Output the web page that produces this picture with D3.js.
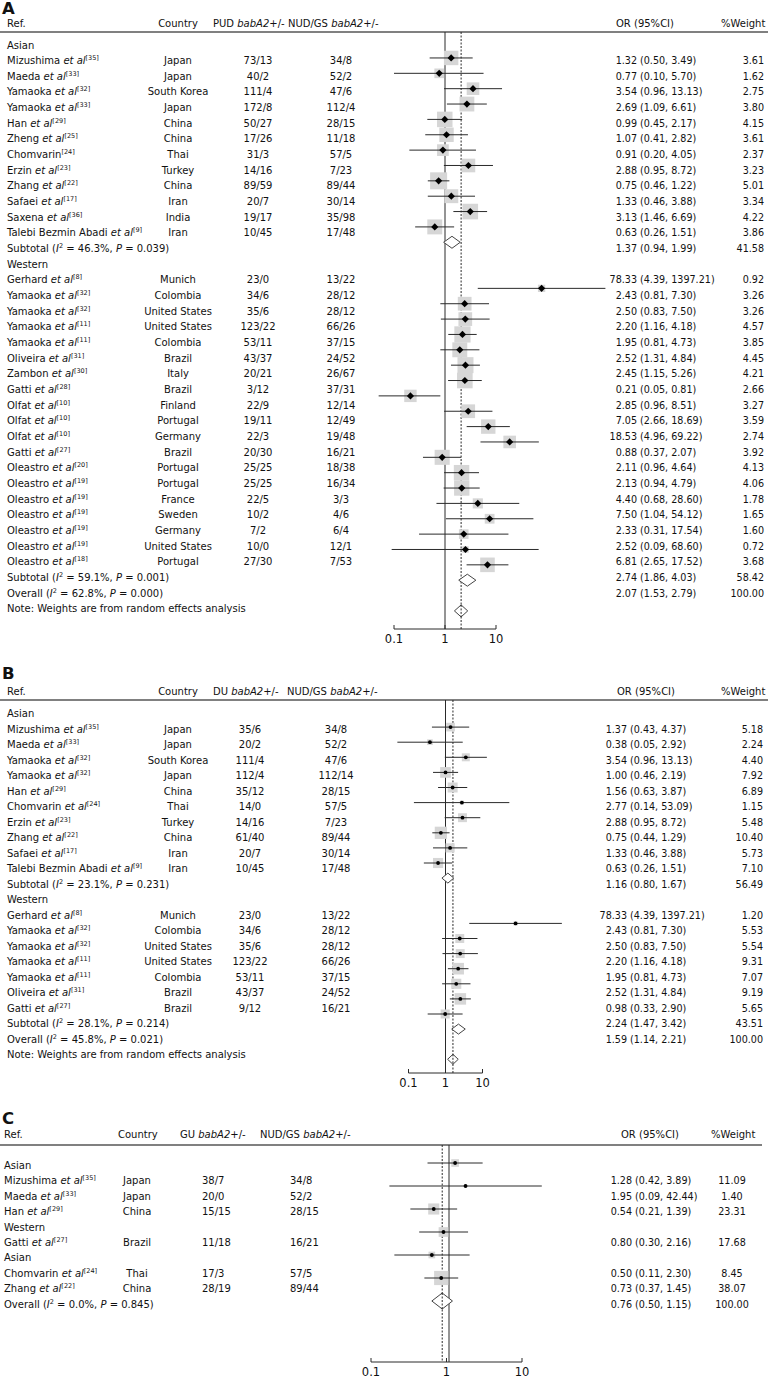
<!DOCTYPE html>
<html><head><meta charset="utf-8">
<script src="https://cdn.jsdelivr.net/npm/d3@7/dist/d3.min.js"></script>
<style>
body{margin:0;background:#fff}
svg{display:block}
text{font-family:'DejaVu Sans',sans-serif;fill:#111;white-space:pre}
</style>
</head><body>
<svg id="chart" width="768" height="1388"></svg>
<script>
// ---------------- DATA ----------------
// [ref name, citation, country, case +/-, control +/-, OR, lower, upper, %weight]
const A_asian = [
 ["Mizushima et al","35","Japan","73/13","34/8",1.32,0.50,3.49,3.61],
 ["Maeda et al","33","Japan","40/2","52/2",0.77,0.10,5.70,1.62],
 ["Yamaoka et al","32","South Korea","111/4","47/6",3.54,0.96,13.13,2.75],
 ["Yamaoka et al","33","Japan","172/8","112/4",2.69,1.09,6.61,3.80],
 ["Han et al","29","China","50/27","28/15",0.99,0.45,2.17,4.15],
 ["Zheng et al","25","China","17/26","11/18",1.07,0.41,2.82,3.61],
 ["Chomvarin","24","Thai","31/3","57/5",0.91,0.20,4.05,2.37],
 ["Erzin et al","23","Turkey","14/16","7/23",2.88,0.95,8.72,3.23],
 ["Zhang et al","22","China","89/59","89/44",0.75,0.46,1.22,5.01],
 ["Safaei et al","17","Iran","20/7","30/14",1.33,0.46,3.88,3.34],
 ["Saxena et al","36","India","19/17","35/98",3.13,1.46,6.69,4.22],
 ["Talebi Bezmin Abadi et al","9","Iran","10/45","17/48",0.63,0.26,1.51,3.86]
];
const A_western = [
 ["Gerhard et al","8","Munich","23/0","13/22",78.33,4.39,1397.21,0.92],
 ["Yamaoka et al","32","Colombia","34/6","28/12",2.43,0.81,7.30,3.26],
 ["Yamaoka et al","32","United States","35/6","28/12",2.50,0.83,7.50,3.26],
 ["Yamaoka et al","11","United States","123/22","66/26",2.20,1.16,4.18,4.57],
 ["Yamaoka et al","11","Colombia","53/11","37/15",1.95,0.81,4.73,3.85],
 ["Oliveira et al","31","Brazil","43/37","24/52",2.52,1.31,4.84,4.45],
 ["Zambon et al","30","Italy","20/21","26/67",2.45,1.15,5.26,4.21],
 ["Gatti et al","28","Brazil","3/12","37/31",0.21,0.05,0.81,2.66],
 ["Olfat et al","10","Finland","22/9","12/14",2.85,0.96,8.51,3.27],
 ["Olfat et al","10","Portugal","19/11","12/49",7.05,2.66,18.69,3.59],
 ["Olfat et al","10","Germany","22/3","19/48",18.53,4.96,69.22,2.74],
 ["Gatti et al","27","Brazil","20/30","16/21",0.88,0.37,2.07,3.92],
 ["Oleastro et al","20","Portugal","25/25","18/38",2.11,0.96,4.64,4.13],
 ["Oleastro et al","19","Portugal","25/25","16/34",2.13,0.94,4.79,4.06],
 ["Oleastro et al","19","France","22/5","3/3",4.40,0.68,28.60,1.78],
 ["Oleastro et al","19","Sweden","10/2","4/6",7.50,1.04,54.12,1.65],
 ["Oleastro et al","19","Germany","7/2","6/4",2.33,0.31,17.54,1.60],
 ["Oleastro et al","19","United States","10/0","12/1",2.52,0.09,68.60,0.72],
 ["Oleastro et al","18","Portugal","27/30","7/53",6.81,2.65,17.52,3.68]
];
// [label, I2, P, OR, lower, upper, weight]
const A_summary = [
 ["Subtotal","46.3%","0.039",1.37,0.94,1.99,41.58],
 ["Subtotal","59.1%","0.001",2.74,1.86,4.03,58.42],
 ["Overall","62.8%","0.000",2.07,1.53,2.79,100.00]
];

const B_asian = [
 ["Mizushima et al","35","Japan","35/6","34/8",1.37,0.43,4.37,5.18],
 ["Maeda et al","33","Japan","20/2","52/2",0.38,0.05,2.92,2.24],
 ["Yamaoka et al","32","South Korea","111/4","47/6",3.54,0.96,13.13,4.40],
 ["Yamaoka et al","32","Japan","112/4","112/14",1.00,0.46,2.19,7.92],
 ["Han et al","29","China","35/12","28/15",1.56,0.63,3.87,6.89],
 ["Chomvarin et al","24","Thai","14/0","57/5",2.77,0.14,53.09,1.15],
 ["Erzin et al","23","Turkey","14/16","7/23",2.88,0.95,8.72,5.48],
 ["Zhang et al","22","China","61/40","89/44",0.75,0.44,1.29,10.40],
 ["Safaei et al","17","Iran","20/7","30/14",1.33,0.46,3.88,5.73],
 ["Talebi Bezmin Abadi et al","9","Iran","10/45","17/48",0.63,0.26,1.51,7.10]
];
const B_western = [
 ["Gerhard et al","8","Munich","23/0","13/22",78.33,4.39,1397.21,1.20],
 ["Yamaoka et al","32","Colombia","34/6","28/12",2.43,0.81,7.30,5.53],
 ["Yamaoka et al","32","United States","35/6","28/12",2.50,0.83,7.50,5.54],
 ["Yamaoka et al","11","United States","123/22","66/26",2.20,1.16,4.18,9.31],
 ["Yamaoka et al","11","Colombia","53/11","37/15",1.95,0.81,4.73,7.07],
 ["Oliveira et al","31","Brazil","43/37","24/52",2.52,1.31,4.84,9.19],
 ["Gatti et al","27","Brazil","9/12","16/21",0.98,0.33,2.90,5.65]
];
const B_summary = [
 ["Subtotal","23.1%","0.231",1.16,0.80,1.67,56.49],
 ["Subtotal","28.1%","0.214",2.24,1.47,3.42,43.51],
 ["Overall","45.8%","0.021",1.59,1.14,2.21,100.00]
];

const C_asian1 = [
 ["Mizushima et al","35","Japan","38/7","34/8",1.28,0.42,3.89,11.09],
 ["Maeda et al","33","Japan","20/0","52/2",1.95,0.09,42.44,1.40],
 ["Han et al","29","China","15/15","28/15",0.54,0.21,1.39,23.31]
];
const C_western = [
 ["Gatti et al","27","Brazil","11/18","16/21",0.80,0.30,2.16,17.68]
];
const C_asian2 = [
 ["Chomvarin et al","24","Thai","17/3","57/5",0.50,0.11,2.30,8.45],
 ["Zhang et al","22","China","28/19","89/44",0.73,0.37,1.45,38.07]
];
const C_summary = [
 ["Overall","0.0%","0.845",0.76,0.50,1.15,100.00]
];

const groupLabels = ["Asian","Western"];
const axisTicks = [0.1, 1, 10];
const noteText = "Note: Weights are from random effects analysis";
const headersA = ["Ref.","Country","PUD","NUD/GS","OR (95%CI)","%Weight"];
const headersB = ["Ref.","Country","DU","NUD/GS","OR (95%CI)","%Weight"];
const headersC = ["Ref.","Country","GU","NUD/GS","OR (95%CI)","%Weight"];

// ---------------- DRAWING ----------------
const svg = d3.select("#chart");
const f2 = d3.format(".2f");

function study(r){return {type:"study",name:r[0],cite:r[1],country:r[2],cas:r[3],ctl:r[4],or:r[5],lo:r[6],hi:r[7],w:r[8]};}
function summ(r){return {type:r[0]==="Overall"?"overall":"sub",label:r[0],i2:r[1],p:r[2],or:r[3],lo:r[4],hi:r[5],w:r[6]};}

function refText(g, x, y, d){
  const t = g.append("text").attr("x",x).attr("y",y).attr("font-size",10);
  if (d.name.endsWith(" et al")) {
    t.append("tspan").text(d.name.slice(0,-5));
    t.append("tspan").attr("font-style","italic").text("et al");
  } else t.append("tspan").text(d.name);
  t.append("tspan").attr("font-size",6.5).attr("dy",-4).text("[" + d.cite + "]");
}
function statText(g, x, y, d){
  const t = g.append("text").attr("x",x).attr("y",y).attr("font-size",10);
  t.append("tspan").text(d.label + " (");
  t.append("tspan").attr("font-style","italic").text("I");
  t.append("tspan").attr("font-size",6.5).attr("dy",-4).text("2");
  t.append("tspan").attr("dy",4).text(" = " + d.i2 + ", ");
  t.append("tspan").attr("font-style","italic").text("P");
  t.append("tspan").text(" = " + d.p + ")");
}
function headerText(g, x, y, label, anchor){
  const t = g.append("text").attr("x",x).attr("y",y).attr("font-size",10).attr("text-anchor",anchor||"start");
  if (label==="PUD"||label==="DU"||label==="GU"||label==="NUD/GS") {
    t.append("tspan").text(label + " ");
    t.append("tspan").attr("font-style","italic").text("babA2");
    t.append("tspan").text("+/-");
  } else t.text(label);
}

function drawPanel(cfg){
  const g = svg.append("g");
  const x = d3.scaleLog().domain([0.1,10]).range(cfg.range);
  const xa = d3.scaleLog().domain([0.1,10]).range(cfg.axisRange || cfg.range);
  // panel letter
  g.append("text").attr("x",cfg.letterX).attr("y",cfg.letterY).attr("font-family","'Liberation Sans',Arial,sans-serif")
    .attr("font-weight","bold").attr("font-size",16.5).text(cfg.letter);
  // headers
  const hy = cfg.headY, c = cfg.cols;
  headerText(g, c.ref, hy, cfg.headers[0]);
  headerText(g, c.countryH, hy, cfg.headers[1], c.countryHA);
  headerText(g, c.caseH, hy, cfg.headers[2]);
  headerText(g, c.ctlH, hy, cfg.headers[3]);
  headerText(g, c.orH, hy, cfg.headers[4]);
  headerText(g, c.wH, hy, cfg.headers[5]);
  g.append("line").attr("x1",0).attr("x2",cfg.lineX2).attr("y1",cfg.lineY).attr("y2",cfg.lineY)
    .attr("stroke","#808080").attr("stroke-width",2);

  const rowY = i => cfg.row0 + i*cfg.pitch;
  const overall = cfg.rows.find(r=>r.type==="overall");
  // reference lines
  g.append("line").attr("x1",x(1)).attr("x2",x(1)).attr("y1",cfg.lineY).attr("y2",cfg.axisY)
    .attr("stroke","#2a2a2a").attr("stroke-width",1);
  g.append("line").attr("x1",x(overall.or)).attr("x2",x(overall.or)).attr("y1",cfg.lineY).attr("y2",cfg.axisY)
    .attr("stroke","#2a2a2a").attr("stroke-width",1).attr("stroke-dasharray","2,1.5");

  // plot-row positions (the plot leaves a blank row after each subtotal)
  const plotted = cfg.rows.filter(r=>r.type==="study"||r.type==="sub"||r.type==="overall");
  let subsSeen = 0;
  const plotYs = new Map();
  if (cfg.plotPoint) {
    const ps = d3.scalePoint().domain(d3.range(plotted.length)).range(cfg.plotPoint);
    plotted.forEach((d,k)=>plotYs.set(d, ps(k)));
  } else {
    cfg.rows.forEach((d,i)=>{
      plotYs.set(d, cfg.plotRow0 + (i + subsSeen)*cfg.plotPitch);
      if (d.type==="sub") subsSeen++;
    });
  }

  cfg.rows.forEach((d,i)=>{
    const cy = rowY(i), by = cy + 4;
    if (d.type==="group" || d.type==="note") {
      g.append("text").attr("x",c.ref).attr("y",by).attr("font-size",10).text(d.label);
      return;
    }
    if (d.type==="study") {
      refText(g, c.ref, by, d);
      g.append("text").attr("x",c.country).attr("y",by).attr("font-size",10).attr("text-anchor",c.countryA).text(d.country);
      g.append("text").attr("x",c.cas).attr("y",by).attr("font-size",10).attr("text-anchor",c.casA).text(d.cas);
      g.append("text").attr("x",c.ctl).attr("y",by).attr("font-size",10).attr("text-anchor",c.ctlA).text(d.ctl);
    } else {
      statText(g, c.ref, by, d);
    }
    g.append("text").attr("x",c.orEnd).attr("y",by).attr("font-size",9.6).attr("text-anchor","end").text(f2(d.or));
    g.append("text").attr("x",c.orEnd+3).attr("y",by).attr("font-size",9.6).text("(" + f2(d.lo) + ", " + f2(d.hi) + ")");
    g.append("text").attr("x",c.w).attr("y",by).attr("font-size",9.6).attr("text-anchor",c.wA).text(f2(d.w));

    const py = plotYs.get(d);
    if (d.type==="study") {
      const s = cfg.sqK*Math.sqrt(d.w);
      g.append("rect").attr("x",x(d.or)-s/2).attr("y",py-s/2).attr("width",s).attr("height",s).attr("fill","#d6d6d6");
      g.append("line").attr("x1",x(d.lo)).attr("x2",x(d.hi)).attr("y1",py).attr("y2",py)
        .attr("stroke","#2a2a2a").attr("stroke-width",1);
      if (cfg.marker==="diamond") {
        const m=3.6, mx=x(d.or);
        g.append("path").attr("d",`M${mx-m},${py}L${mx},${py-m}L${mx+m},${py}L${mx},${py+m}Z`).attr("fill","#000");
      } else {
        g.append("circle").attr("cx",x(d.or)).attr("cy",py).attr("r",1.9).attr("fill","#000");
      }
    } else {
      const h = d.type==="overall" ? cfg.diaHo : cfg.diaH;
      g.append("path").attr("d",`M${x(d.lo)},${py}L${x(d.or)},${py-h}L${x(d.hi)},${py}L${x(d.or)},${py+h}Z`)
        .attr("fill","#fff").attr("stroke","#444").attr("stroke-width",1);
      if (d.type==="overall") {
        g.append("line").attr("x1",x(d.or)).attr("x2",x(d.or)).attr("y1",py-h).attr("y2",py+h)
          .attr("stroke","#2a2a2a").attr("stroke-dasharray","2,1.5");
      }
    }
  });

  // axis
  const ay = cfg.axisY;
  g.append("line").attr("x1",xa(0.1)).attr("x2",xa(10)).attr("y1",ay).attr("y2",ay).attr("stroke","#2a2a2a");
  axisTicks.forEach(t=>{
    g.append("line").attr("x1",xa(t)).attr("x2",xa(t)).attr("y1",ay).attr("y2",ay-4).attr("stroke","#2a2a2a");
    g.append("text").attr("x",xa(t)).attr("y",ay+14).attr("text-anchor","middle")
      .attr("font-family","'Liberation Serif','DejaVu Serif',serif").attr("font-size",11.5).text(t===0.1?"0.1":String(t));
  });
}

function buildRows(groups, summary, note){
  const rows = [];
  groups.forEach(gp=>{
    rows.push({type:"group",label:gp.label});
    gp.data.forEach(r=>rows.push(study(r)));
    if (gp.sub) rows.push(summ(gp.sub));
  });
  summary.filter(s=>s[0]==="Overall").forEach(s=>rows.push(summ(s)));
  if (note) rows.push({type:"note",label:note});
  return rows;
}

// Panel A
drawPanel({
  letter:"A", letterX:2, letterY:14, headY:27, lineY:32, lineX2:768,
  headers:headersA,
  row0:44.5, pitch:15.66, plotRow0:42.6, plotPitch:15.36,
  range:[394,496],
  cols:{ref:7,countryH:178,countryHA:"middle",caseH:213,ctlH:288,orH:616,wH:721,
        country:178,countryA:"middle",cas:258,casA:"middle",ctl:341,ctlA:"middle",
        orEnd:637,w:764,wA:"end"},
  rows: buildRows([{label:groupLabels[0],data:A_asian,sub:A_summary[0]},{label:groupLabels[1],data:A_western,sub:A_summary[1]}], A_summary, noteText),
  sqK:7.6, marker:"diamond", diaH:6, diaHo:6, axisY:629
});

// Panel B
drawPanel({
  letter:"B", letterX:2, letterY:679, headY:695, lineY:700, lineX2:768,
  headers:headersB,
  row0:713, pitch:15.5, plotRow0:712, plotPitch:15.1,
  range:[408.5,482.5],
  cols:{ref:7,countryH:178,countryHA:"middle",caseH:213,ctlH:287,orH:617,wH:721,
        country:178,countryA:"middle",cas:250,casA:"middle",ctl:336,ctlA:"middle",
        orEnd:627,w:763,wA:"end"},
  rows: buildRows([{label:groupLabels[0],data:B_asian,sub:B_summary[0]},{label:groupLabels[1],data:B_western,sub:B_summary[1]}], B_summary, noteText),
  sqK:3.8, marker:"dot", diaH:5, diaHo:5, axisY:1073
});

// Panel C
drawPanel({
  letter:"C", letterX:2, letterY:1124, headY:1138, lineY:1145, lineX2:762,
  headers:headersC,
  row0:1165, pitch:15.4, plotPoint:[1163,1301],
  range:[392,506], axisRange:[371,522],
  cols:{ref:4,countryH:118,countryHA:"start",caseH:180,ctlH:260,orH:621,wH:711,
        country:137,countryA:"middle",cas:202,casA:"start",ctl:290,ctlA:"start",
        orEnd:632,w:732,wA:"middle"},
  rows: buildRows([{label:groupLabels[0],data:C_asian1},{label:groupLabels[1],data:C_western},{label:groupLabels[0],data:C_asian2}], C_summary, null),
  sqK:2.3, marker:"dot", diaH:8, diaHo:8, axisY:1362
});
</script>
</body></html>
